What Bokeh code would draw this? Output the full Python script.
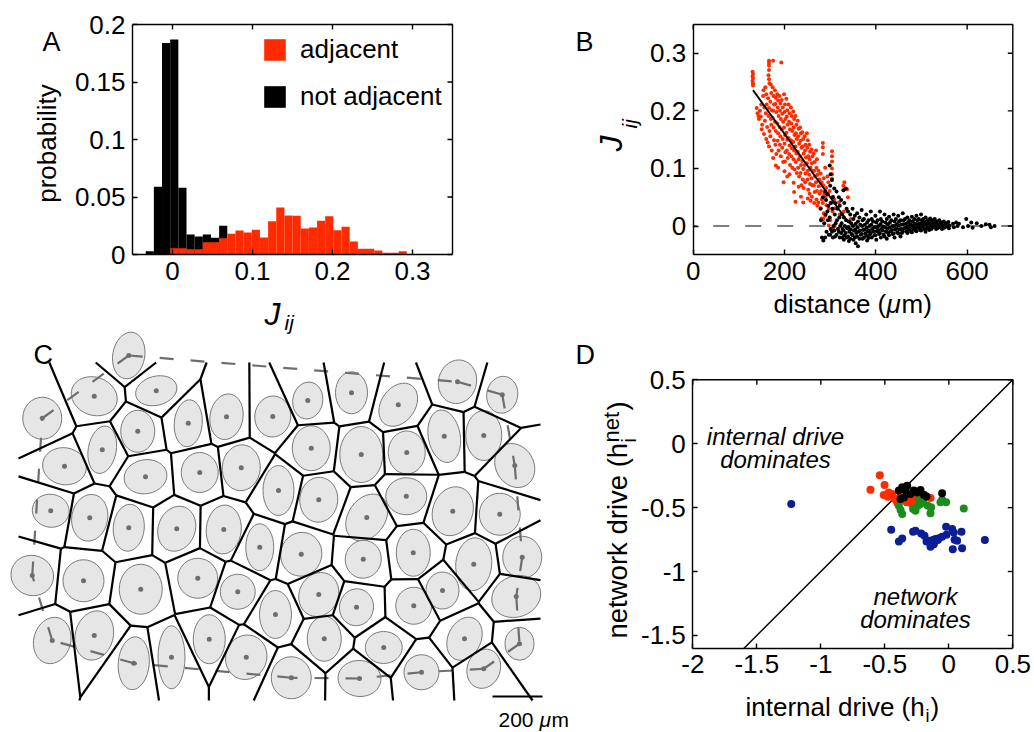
import numpy as np
from bokeh.plotting import figure
from bokeh.models import (Range1d, FixedTicker, LinearAxis, NumeralTickFormatter,
                          Label, Legend, LegendItem)
from bokeh.embed import file_html
from bokeh.resources import INLINE

FONT = "Liberation Sans"
RED = "#FF2B00"
GREEN = "#1C8C1C"
BLUE = "#0B1E96"
GRAY = "#6E6E6E"

# ---------------- A: distribution of couplings J_ij ----------------
J_BIN_START = -0.0335
J_BIN_WIDTH = 0.0102
not_adjacent_prob = [0.0029, 0.059, 0.184, 0.187, 0.058, 0.0174, 0.0157, 0.0174, 0.0145, 0.025]
ADJACENT_FIRST_BIN = 3
adjacent_prob = [0.0055, 0.0055, 0.0046, 0.0046, 0.0107, 0.0107, 0.0142, 0.018, 0.0209,
                 0.0191, 0.0215, 0.0148, 0.029, 0.0409, 0.0339, 0.0336, 0.0226, 0.0235,
                 0.0293, 0.0333, 0.0211, 0.0241, 0.0113, 0.0049, 0.0049, 0.0035, 0.0015,
                 0.0015, 0.0029]

# ---------------- B: J_ij versus distance (um) ----------------
adjacent_pairs = [
    (130, 0.268), (131, 0.264), (130, 0.260), (131, 0.256), (130, 0.252), (131, 0.248), (131, 0.244),
    (139, 0.205), (141, 0.196), (144, 0.186), (146, 0.200), (143, 0.191),
    (149, 0.211), (151, 0.176), (150, 0.168), (148, 0.190),
    (153, 0.226), (156, 0.206), (155, 0.160), (157, 0.183), (154, 0.236),
    (158, 0.241), (160, 0.229), (161, 0.211), (159, 0.196), (162, 0.172), (160, 0.151), (163, 0.145),
    (166, 0.287), (166, 0.283), (166, 0.279), (166, 0.271), (165, 0.262), (166, 0.255), (167, 0.248),
    (164, 0.222), (166, 0.205), (165, 0.191), (167, 0.165), (166, 0.138),
    (170, 0.246), (171, 0.231), (169, 0.216), (172, 0.201), (170, 0.186), (171, 0.176), (169, 0.156), (172, 0.131),
    (175, 0.287), (174, 0.241), (176, 0.226), (177, 0.211), (175, 0.200), (174, 0.188), (176, 0.171), (177, 0.149), (175, 0.118),
    (179, 0.236), (181, 0.223), (180, 0.212), (182, 0.198), (179, 0.181), (181, 0.165), (180, 0.141), (182, 0.125), (181, 0.105),
    (184, 0.229), (186, 0.218), (185, 0.206), (187, 0.191), (184, 0.178), (186, 0.161), (185, 0.148), (187, 0.131), (186, 0.101),
    (189, 0.226), (191, 0.213), (190, 0.200), (192, 0.186), (189, 0.172), (191, 0.156), (190, 0.141), (192, 0.121),
    (193, 0.284),
    (194, 0.219), (196, 0.206), (195, 0.195), (197, 0.181), (194, 0.168), (196, 0.151), (195, 0.136), (197, 0.111), (198, 0.076),
    (199, 0.229), (201, 0.211), (200, 0.198), (202, 0.186), (199, 0.171), (201, 0.158), (200, 0.143), (202, 0.128), (201, 0.112), (200, 0.095),
    (204, 0.221), (206, 0.201), (205, 0.190), (207, 0.176), (204, 0.162), (206, 0.150), (205, 0.131), (207, 0.118), (206, 0.086),
    (209, 0.211), (211, 0.196), (210, 0.181), (212, 0.168), (209, 0.153), (211, 0.140), (210, 0.125), (212, 0.106), (211, 0.090),
    (214, 0.206), (216, 0.191), (215, 0.178), (217, 0.165), (214, 0.149), (216, 0.135), (215, 0.121), (217, 0.101),
    (219, 0.199), (221, 0.186), (220, 0.171), (222, 0.158), (219, 0.146), (221, 0.131), (220, 0.116), (222, 0.098), (220, 0.075), (221, 0.059),
    (224, 0.191), (226, 0.176), (225, 0.161), (227, 0.151), (224, 0.138), (226, 0.126), (225, 0.111), (227, 0.092), (224, 0.042),
    (229, 0.183), (231, 0.169), (230, 0.156), (232, 0.143), (229, 0.129), (231, 0.116), (230, 0.101), (232, 0.086), (231, 0.068),
    (234, 0.171), (236, 0.161), (235, 0.148), (237, 0.136), (234, 0.121), (236, 0.106), (235, 0.092), (237, 0.071), (236, 0.051),
    (239, 0.163), (241, 0.151), (240, 0.138), (242, 0.126), (239, 0.113), (241, 0.099), (240, 0.081), (242, 0.066), (241, 0.041),
    (244, 0.156), (246, 0.141), (245, 0.131), (247, 0.119), (244, 0.106), (246, 0.091), (245, 0.076),
    (249, 0.161), (251, 0.149), (250, 0.136), (252, 0.121), (249, 0.109), (251, 0.096), (250, 0.081), (252, 0.063), (251, 0.048),
    (254, 0.141), (256, 0.129), (255, 0.116), (257, 0.101), (254, 0.089), (256, 0.073), (255, 0.056), (257, 0.044),
    (259, 0.133), (261, 0.121), (260, 0.109), (262, 0.096), (259, 0.083), (261, 0.071), (260, 0.051),
    (264, 0.126), (266, 0.111), (265, 0.096), (267, 0.086), (264, 0.071), (266, 0.059), (265, 0.040),
    (269, 0.131), (271, 0.116), (270, 0.101), (272, 0.089), (269, 0.076), (271, 0.061), (270, 0.046), (272, 0.035),
    (274, 0.096), (276, 0.081), (275, 0.069), (277, 0.056), (274, 0.041),
    (279, 0.091), (281, 0.076), (280, 0.061), (282, 0.046), (279, 0.031), (281, 0.013),
    (284, 0.144), (284, 0.137), (284, 0.125), (286, 0.083), (285, 0.071), (287, 0.056), (284, 0.040), (286, 0.022), (285, 0.012),
    (289, 0.101), (291, 0.066), (290, 0.051), (292, 0.036), (289, 0.018),
    (294, 0.086), (296, 0.076), (295, 0.056), (297, 0.030), (297, 0.001),
    (300, 0.010), (299, 0.061), (301, 0.041),
    (304, 0.130), (304, 0.121), (304, 0.112), (304, 0.100), (304, 0.090), (304, 0.082), (306, 0.051), (305, 0.025), (306, -0.005),
    (309, 0.046), (311, 0.031), (310, 0.000),
    (319, 0.041), (321, 0.020),
    (329, 0.070), (331, 0.076), (333, 0.064), (337, 0.064), (330, 0.025),
    (339, 0.050), (341, -0.005), (345, 0.012),
]
nonadjacent_pairs = [
    (280, 0.010), (282, -0.020), (279, 0.030), (285, -0.025), (287, 0.005), (284, 0.050),
    (289, 0.060), (291, 0.045), (290, 0.020), (292, -0.010), (289, -0.020),
    (294, 0.055), (296, 0.035), (295, 0.010), (297, -0.015), (294, 0.025),
    (299, 0.105), (301, 0.090), (300, 0.070), (302, 0.040), (299, 0.015), (301, -0.005), (300, -0.015),
    (304, 0.080), (306, 0.050), (305, 0.030), (307, 0.000), (304, -0.010), (306, -0.020),
    (309, 0.065), (311, 0.040), (310, 0.020), (312, 0.005), (309, -0.008), (311, -0.018),
    (314, 0.060), (316, 0.030), (315, 0.010), (317, -0.005), (314, -0.015),
    (319, 0.050), (321, 0.035), (320, 0.015), (322, 0.000), (319, -0.010), (321, -0.020),
    (324, 0.045), (326, 0.020), (325, 0.005), (327, -0.005), (324, -0.012), (326, -0.020),
    (329, 0.062), (331, 0.040), (330, 0.015), (332, 0.000), (329, -0.008), (331, -0.016), (330, -0.024),
    (334, 0.065), (336, 0.030), (335, 0.010), (337, -0.004), (334, -0.012), (336, -0.020),
    (339, 0.025), (341, 0.008), (340, -0.002), (342, -0.010), (339, -0.018), (341, -0.026),
    (344, 0.020), (346, 0.005), (345, -0.006), (347, -0.014), (344, -0.022),
    (349, 0.030), (351, 0.012), (350, 0.000), (352, -0.008), (349, -0.016), (351, -0.024),
    (354, 0.018), (356, 0.004), (355, -0.006), (357, -0.012), (354, -0.020), (356, -0.030),
    (359, 0.022), (361, 0.008), (360, -0.002), (362, -0.010), (359, -0.018), (361, -0.035),
    (364, 0.015), (366, 0.002), (365, -0.008), (367, -0.015), (364, -0.022),
    (369, 0.028), (371, 0.010), (370, 0.000), (372, -0.007), (369, -0.014), (371, -0.022),
    (374, 0.012), (376, 0.002), (375, -0.006), (377, -0.013), (374, -0.020),
    (379, 0.020), (381, 0.006), (380, -0.003), (382, -0.010), (379, -0.017), (381, -0.025),
    (384, 0.010), (386, 0.000), (385, -0.008), (387, -0.015), (384, -0.021),
    (389, 0.025), (391, 0.012), (390, 0.002), (392, -0.005), (389, -0.012), (391, -0.020),
    (394, 0.008), (396, -0.002), (395, -0.009), (397, -0.016),
    (399, 0.018), (401, 0.006), (400, -0.002), (402, -0.009), (399, -0.016), (401, -0.024),
    (404, 0.010), (406, 0.000), (405, -0.007), (407, -0.014),
    (409, 0.025), (411, 0.012), (410, 0.003), (412, -0.005), (409, -0.012), (411, -0.020),
    (414, 0.008), (416, -0.001), (415, -0.008), (417, -0.015),
    (419, 0.020), (421, 0.006), (420, -0.002), (422, -0.010), (419, -0.018),
    (424, 0.012), (426, 0.003), (425, -0.005), (427, -0.012), (424, -0.022),
    (429, 0.016), (431, 0.006), (430, -0.002), (432, -0.009), (429, -0.016),
    (434, 0.010), (436, 0.000), (435, -0.007), (437, -0.014),
    (439, 0.020), (441, 0.008), (440, 0.000), (442, -0.006), (439, -0.013), (441, -0.020),
    (444, 0.012), (446, 0.003), (445, -0.004), (447, -0.011),
    (449, 0.018), (451, 0.008), (450, 0.001), (452, -0.006), (449, -0.013),
    (454, 0.010), (456, 0.002), (455, -0.005), (457, -0.012), (454, -0.018),
    (459, 0.022), (461, 0.010), (460, 0.003), (462, -0.004), (459, -0.010),
    (464, 0.012), (466, 0.004), (465, -0.003), (467, -0.009),
    (469, 0.015), (471, 0.007), (470, 0.000), (472, -0.006), (469, -0.012),
    (474, 0.010), (476, 0.003), (475, -0.004), (477, -0.010),
    (479, 0.016), (481, 0.008), (480, 0.001), (482, -0.005), (479, -0.011),
    (484, 0.012), (486, 0.004), (485, -0.002), (487, -0.008),
    (489, 0.018), (491, 0.010), (490, 0.003), (492, -0.003), (489, -0.009),
    (494, 0.012), (496, 0.005), (495, -0.001), (497, -0.007),
    (499, 0.020), (501, 0.010), (500, 0.004), (502, -0.002), (499, -0.008),
    (504, 0.012), (506, 0.006), (505, 0.000), (507, -0.006),
    (509, 0.015), (511, 0.008), (510, 0.002), (512, -0.004), (509, -0.010),
    (514, 0.010), (516, 0.004), (515, -0.002), (517, -0.007),
    (519, 0.013), (521, 0.007), (520, 0.001), (522, -0.005),
    (524, 0.010), (526, 0.004), (525, -0.002),
    (529, 0.012), (531, 0.006), (530, 0.000), (532, -0.005),
    (534, 0.008), (536, 0.002), (535, -0.004),
    (539, 0.010), (541, 0.004), (540, -0.002),
    (544, 0.006), (546, 0.000), (545, -0.005),
    (549, 0.008), (551, 0.002), (550, -0.003),
    (554, 0.005), (556, -0.001), (559, 0.007), (561, 0.001), (560, -0.004),
    (569, 0.004), (571, -0.002), (576, 0.006), (579, 0.000), (582, 0.004), (591, -0.002),
    (598, 0.012), (602, 0.000), (609, 0.006), (612, -0.003), (621, 0.005), (631, 0.000),
    (641, 0.003), (649, 0.002), (652, -0.002), (660, 0.000),
]
fit_dist = [131, 340]
fit_J = [0.236, 0.006]

# ---------------- C: cell centres and outlines (um) ----------------
cell_x = [433, 295, 543, 87, 469, 327, 671, 824, 1009, 176, 500, 717, 883, 121, 277, 433,
          625, 813, 957, 47, 252, 481, 709, 869, 127, 295, 453, 604, 755, 903, 1149, 1324,
          1511, 1748, 1927, 1163, 1363, 1545, 1695, 1853, 1977, 1032, 1193, 1385, 1543, 1729,
          1917, 1123, 1371, 1571, 1813, 2007, 1020, 1193, 1344, 1573, 1688, 1983, 1215, 1453,
          1776, 1996, 1083, 1356, 1604, 1853]
cell_y = [20, 183, 161, 271, 323, 397, 291, 265, 264, 463, 505, 488, 469, 641, 669, 709,
          713, 716, 787, 900, 921, 955, 911, 965, 1160, 1140, 1251, 1227, 1155, 1227, 200, 169,
          217, 125, 177, 391, 416, 408, 343, 340, 460, 560, 597, 668, 583, 643,
          655, 815, 835, 809, 855, 827, 1056, 976, 1027, 1021, 960, 984, 1153, 1188,
          1153, 1173, 1309, 1312, 1287, 1273]
cell_w = [128, 188, 168, 156, 136, 112, 112, 132, 144, 176, 172, 148, 152, 148, 144, 124,
          148, 140, 112, 172, 164, 172, 160, 140, 148, 152, 124, 108, 128, 164, 120, 128,
          136, 152, 124, 152, 172, 148, 128, 144, 152, 124, 152, 148, 164, 160,
          164, 164, 144, 136, 144, 156, 128, 156, 136, 144, 132, 200, 136, 148,
          132, 116, 160, 172, 140, 132]
cell_h = [188, 152, 116, 168, 168, 192, 188, 184, 164, 148, 136, 160, 184, 132, 188, 188,
          184, 196, 188, 160, 168, 200, 160, 140, 188, 200, 212, 252, 196, 180, 148, 168,
          188, 176, 148, 180, 224, 172, 212, 200, 184, 200, 180, 204, 148, 200,
          168, 176, 152, 188, 212, 168, 192, 180, 148, 148, 148, 164, 180, 128,
          180, 132, 168, 144, 140, 160]
# clockwise tilt of each outline, degrees
cell_tilt = [10, 20, -15, 0, 0, 10, 5, 10, 5, 10, -10, 0, 5, 10, 10, 5,
             20, 5, 0, 20, 0, 0, 15, 0, 15, 15, 5, 0, 0, 20, 10, 0,
             35, 15, 10, 0, 0, 0, -10, 0, -30, 0, 5, 35, 0, 20,
             0, 15, 10, 0, 5, 0, 0, 25, 10, 0, 0, -20, 0, 0,
             25, 0, 0, 5, 0, 20]
# outermost cells, in drawing order round the array
boundary_cells = [0, 33, 34, 40, 51, 57, 61, 65, 64, 63, 62, 26, 24, 19, 3]
SCALE_BAR_UM = 200

# ---------------- D: internal vs network drive ----------------
drive_red = [(-0.539, -0.247), (-0.612, -0.360), (-0.502, -0.323), (-0.508, -0.402), (-0.469, -0.381),
             (-0.476, -0.415), (-0.442, -0.394), (-0.429, -0.425), (-0.409, -0.446), (-0.383, -0.425),
             (-0.357, -0.441), (-0.330, -0.459), (-0.398, -0.467), (-0.292, -0.467), (-0.253, -0.441),
             (-0.190, -0.420), (-0.143, -0.425), (-0.260, -0.415), (-0.312, -0.425)]
drive_green = [(-0.390, -0.485), (-0.377, -0.519), (-0.364, -0.550), (-0.279, -0.511), (-0.234, -0.441),
               (-0.221, -0.472), (-0.242, -0.485), (-0.164, -0.485), (-0.138, -0.498), (-0.143, -0.545),
               (-0.065, -0.459), (-0.052, -0.438), (-0.021, -0.459), (0.117, -0.506), (-0.260, -0.524),
               (-0.200, -0.451)]
drive_black = [(-0.390, -0.367), (-0.364, -0.341), (-0.325, -0.328), (-0.351, -0.420), (-0.377, -0.433),
               (-0.273, -0.367), (-0.299, -0.394), (-0.221, -0.362), (-0.195, -0.399), (-0.174, -0.414),
               (-0.052, -0.388), (-0.338, -0.367), (-0.247, -0.381)]
drive_blue = [(-1.231, -0.472), (0.282, -0.754), (-0.450, -0.673), (-0.390, -0.765), (-0.364, -0.741),
              (-0.279, -0.689), (-0.260, -0.681), (-0.216, -0.702), (-0.190, -0.720), (-0.156, -0.759),
              (-0.143, -0.775), (-0.125, -0.754), (-0.104, -0.746), (-0.078, -0.739), (-0.052, -0.728),
              (-0.021, -0.650), (-0.018, -0.712), (0.026, -0.668), (0.039, -0.694), (0.045, -0.752),
              (0.065, -0.759), (0.031, -0.825), (0.099, -0.689), (0.104, -0.817), (-0.143, -0.806),
              (-0.117, -0.786), (-0.174, -0.765), (-0.086, -0.754)]

# ---------------- page: one canvas, one coordinate system per panel ----------------
W, H = 1034, 732
p = figure(width=W, height=H, x_range=Range1d(0, W), y_range=Range1d(H, 0),
           min_border=0, x_axis_location=None, y_axis_location=None,
           output_backend="svg", toolbar_location=None,
           background_fill_color="white", border_fill_color="white")
p.grid.visible = False
p.outline_line_color = None
p.title.visible = False

# pixel boxes of the three axes frames: left, right, top, bottom
BOX = {"A": (132, 452, 24, 254), "B": (692.7, 1012.3, 24, 254.3), "D": (692.3, 1012.3, 379.3, 647.7)}
LIM = {"A": (-0.05, 0.35, 0, 0.2), "B": (0, 700, -0.05, 0.35), "D": (-2, 0.5, -1.6, 0.5)}
TICKS = {"A": ([0, 0.1, 0.2, 0.3], [0, 0.05, 0.1, 0.15, 0.2]),
         "B": ([0, 200, 400, 600], [0, 0.1, 0.2, 0.3]),
         "D": ([-2, -1.5, -1, -0.5, 0, 0.5], [-1.5, -1, -0.5, 0, 0.5])}
TICK_LEN = 5


def add_panel(name):
    px0, px1, py0, py1 = BOX[name]
    x0, x1, y0, y1 = LIM[name]
    sx = (x1 - x0) / (px1 - px0)
    sy = (y1 - y0) / (py1 - py0)
    p.extra_x_ranges[name] = Range1d(x0 - px0 * sx, x1 + (W - px1) * sx)
    p.extra_y_ranges[name] = Range1d(y0 - (H - py1) * sy, y1 + py0 * sy)
    xt, yt = TICKS[name]
    bottom = LinearAxis(x_range_name=name, y_range_name=name, fixed_location=y0,
                        bounds=(x0, x1), ticker=FixedTicker(ticks=xt))
    left = LinearAxis(x_range_name=name, y_range_name=name, fixed_location=x0,
                      bounds=(y0, y1), ticker=FixedTicker(ticks=yt))
    for ax in (bottom, left):
        ax.formatter = NumeralTickFormatter(format="0.[00]")
        ax.axis_line_color = "black"
        ax.axis_line_width = 1.4
        ax.major_tick_in = TICK_LEN
        ax.major_tick_out = 0
        ax.minor_tick_in = 0
        ax.minor_tick_out = 0
        ax.major_tick_line_color = "black"
        ax.major_tick_line_width = 1.4
        ax.major_label_text_font = FONT
        ax.major_label_text_font_size = "26px"
        ax.major_label_text_color = "black"
        ax.major_label_standoff = 7
    p.add_layout(bottom, "below")
    p.add_layout(left, "left")
    # closing top and right edges, with inward ticks
    kw = dict(x_range_name=name, y_range_name=name, line_color="black", line_width=1.4)
    p.line([x0, x1, x1], [y1, y1, y0], **kw)
    p.segment(x0=xt, y0=[y1] * len(xt), x1=xt, y1=[y1 - TICK_LEN * sy] * len(xt), **kw)
    p.segment(x0=[x1] * len(yt), y0=yt, x1=[x1 - TICK_LEN * sx] * len(yt), y1=yt, **kw)


def put(text, x, y, size=26, style="normal", angle=0.0, align="left"):
    # (x, y) is the vertical middle of the text line, in page pixels
    p.add_layout(Label(x=x, y=y, text=text, text_font=FONT, text_font_size=f"{size}px",
                       text_font_style=style, text_color="black", angle=angle,
                       text_align=align, text_baseline="middle"))


UP = np.pi / 2

# ---------------- panel A ----------------
add_panel("A")
na_left = [J_BIN_START + k * J_BIN_WIDTH for k in range(len(not_adjacent_prob))]
ad_left = [J_BIN_START + (ADJACENT_FIRST_BIN + k) * J_BIN_WIDTH for k in range(len(adjacent_prob))]
r_na = p.quad(left=na_left, right=[v + J_BIN_WIDTH for v in na_left], bottom=0,
              top=not_adjacent_prob, fill_color="black", line_color=None,
              x_range_name="A", y_range_name="A")
r_ad = p.quad(left=ad_left, right=[v + J_BIN_WIDTH for v in ad_left], bottom=0,
              top=adjacent_prob, fill_color=RED, line_color=None,
              x_range_name="A", y_range_name="A")
legend = Legend(items=[LegendItem(label="adjacent", renderers=[r_ad]),
                       LegendItem(label="not adjacent", renderers=[r_na])],
                location=(261, H - 112), glyph_width=27, glyph_height=27, label_height=27,
                label_text_font=FONT, label_text_font_size="26px", label_text_color="black",
                label_standoff=12, spacing=16, padding=0, margin=0,
                border_line_color=None, background_fill_alpha=0)
p.add_layout(legend)
put("A", 42, 41, size=27)
put("probability", 46, 143, angle=UP, align="center")
put("J", 264, 313, size=32, style="italic")
put("ij", 284, 322, size=21, style="italic")

# ---------------- panel B ----------------
add_panel("B")
kwB = dict(x_range_name="B", y_range_name="B")
p.line([0, 700], [0, 0], line_color="black", line_width=1.1, line_dash="16 16",
       line_dash_offset=12, **kwB)
ad_d, ad_j = zip(*adjacent_pairs)
na_d, na_j = zip(*nonadjacent_pairs)
p.scatter(list(ad_d), list(ad_j), size=4, color=RED, line_color=None, **kwB)
p.scatter(list(na_d), list(na_j), size=4, color="black", line_color=None, **kwB)
p.line(fit_dist, fit_J, line_color="black", line_width=1.8, **kwB)
put("B", 575, 41, size=27)
put("J", 610, 151, size=32, style="italic", angle=UP)
put("ij", 629, 128, size=21, style="italic", angle=UP)
put("distance (", 773, 303)
put("\u03bc", 886, 303, style="italic")
put("m)", 901, 303)

# ---------------- panel C ----------------
# tissue coordinates: 4 um per screen pixel, y growing downwards
p.extra_x_ranges["C"] = Range1d(-80, 4056)
p.extra_y_ranges["C"] = Range1d(1528, -1400)
kwC = dict(x_range_name="C", y_range_name="C")
p.ellipse(cell_x, cell_y, width=cell_w, height=cell_h,
          angle=[-np.radians(t) for t in cell_tilt],
          fill_color="#E6E6E6", line_color="#7A7A7A", line_width=1, **kwC)

# dashed boundary through the outermost cells, one dash run per side
hx, hy = [], []
for a, b in zip(boundary_cells, boundary_cells[1:] + boundary_cells[:1]):
    hx.append([cell_x[a], cell_x[b]])
    hy.append([cell_y[a], cell_y[b]])
p.multi_line(hx, hy, line_color=GRAY, line_width=2.2, line_dash="14 17", **kwC)


def voronoi_segments(xs, ys, box):
    pts = np.column_stack([xs, ys]).astype(float)
    x0, x1, y0, y1 = box
    segs_x, segs_y = [], []
    for i, pt in enumerate(pts):
        poly = [np.array(v, float) for v in ((x0, y0), (x1, y0), (x1, y1), (x0, y1))]
        labs = [-1, -1, -1, -1]
        for j, q in enumerate(pts):
            if j == i:
                continue
            n = q - pt
            c = float(np.dot(n, (pt + q) / 2))
            new_poly, new_labs = [], []
            m = len(poly)
            for k in range(m):
                a, b, lab = poly[k], poly[(k + 1) % m], labs[k]
                da, db = float(np.dot(n, a)) - c, float(np.dot(n, b)) - c
                if da <= 0:
                    new_poly.append(a)
                    new_labs.append(lab)
                    if db > 0:
                        new_poly.append(a + da / (da - db) * (b - a))
                        new_labs.append(j)
                elif db <= 0:
                    new_poly.append(a + da / (da - db) * (b - a))
                    new_labs.append(lab)
            poly, labs = new_poly, new_labs
        m = len(poly)
        for k in range(m):
            if labs[k] > i:
                a, b = poly[k], poly[(k + 1) % m]
                segs_x.append([a[0], b[0]])
                segs_y.append([a[1], b[1]])
    return segs_x, segs_y


vx, vy = voronoi_segments(cell_x, cell_y, (-8, 2080, 48, 1400))
p.multi_line(vx, vy, line_color="black", line_width=2.2, **kwC)
p.scatter(cell_x, cell_y, size=5, color=GRAY, line_color=None, **kwC)
bar_x0, bar_y = 1888, 1384
p.line([bar_x0, bar_x0 + SCALE_BAR_UM], [bar_y, bar_y], line_color="black", line_width=2.2, **kwC)
put("C", 33, 354, size=27)
put("200 ", 498, 719, size=21)
put("\u03bc", 539, 719, size=21, style="italic")
put("m", 551, 719, size=21)

# ---------------- panel D ----------------
add_panel("D")
kwD = dict(x_range_name="D", y_range_name="D")
p.line([-1.6, 0.5], [-1.6, 0.5], line_color="black", line_width=1.5, **kwD)
for pts, col in ((drive_red, RED), (drive_green, GREEN), (drive_black, "black"), (drive_blue, BLUE)):
    xs, ys = zip(*pts)
    p.scatter(list(xs), list(ys), size=8, color=col, line_color=None, **kwD)
put("D", 575, 354, size=27)
put("internal drive", 775, 436, size=24, style="italic", align="center")
put("dominates", 775, 459, size=24, style="italic", align="center")
put("network", 915, 596, size=24, style="italic", align="center")
put("dominates", 915, 619, size=24, style="italic", align="center")
put("internal drive (h", 745, 706)
put("i", 925, 715, size=18)
put(")", 930, 706)
put("network drive (h", 617, 638, size=27.5, angle=UP)
put("i", 628, 442, size=20, angle=UP)
put("net", 611, 442, size=22, angle=UP)
put(")", 617, 410, size=27.5, angle=UP)

open("out.html", "w").write(file_html(p, INLINE, "Couplings and drives"))
